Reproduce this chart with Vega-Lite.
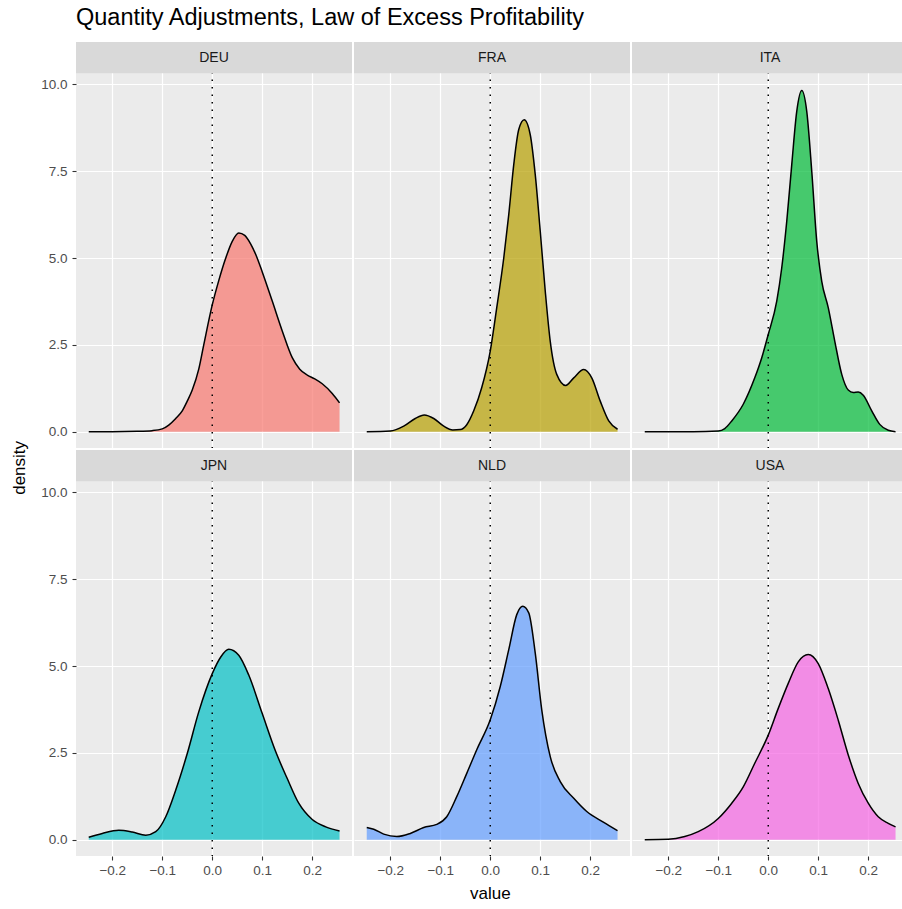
{
  "$schema": "https://vega.github.io/schema/vega-lite/v6.json",
  "title": {
    "text": "Quantity Adjustments, Law of Excess Profitability",
    "anchor": "start",
    "frame": "group",
    "fontSize": 23.5,
    "fontWeight": "normal",
    "color": "black",
    "font": "Liberation Sans",
    "offset": 12
  },
  "padding": {"left": 10, "top": 5, "right": 0, "bottom": 2},
  "data": {
    "values": [
      {"country": "DEU", "value": -0.247, "density": 0.0},
      {"country": "DEU", "value": -0.2, "density": 0.0},
      {"country": "DEU", "value": -0.15, "density": 0.01},
      {"country": "DEU", "value": -0.12, "density": 0.03},
      {"country": "DEU", "value": -0.1, "density": 0.08},
      {"country": "DEU", "value": -0.087, "density": 0.19},
      {"country": "DEU", "value": -0.073, "density": 0.38},
      {"country": "DEU", "value": -0.06, "density": 0.6},
      {"country": "DEU", "value": -0.05, "density": 0.88},
      {"country": "DEU", "value": -0.04, "density": 1.2},
      {"country": "DEU", "value": -0.027, "density": 1.8},
      {"country": "DEU", "value": -0.017, "density": 2.5},
      {"country": "DEU", "value": 0.0, "density": 3.65},
      {"country": "DEU", "value": 0.013, "density": 4.35},
      {"country": "DEU", "value": 0.027, "density": 5.0},
      {"country": "DEU", "value": 0.04, "density": 5.48},
      {"country": "DEU", "value": 0.053, "density": 5.72},
      {"country": "DEU", "value": 0.065, "density": 5.65},
      {"country": "DEU", "value": 0.077, "density": 5.4},
      {"country": "DEU", "value": 0.087, "density": 5.1},
      {"country": "DEU", "value": 0.1, "density": 4.6},
      {"country": "DEU", "value": 0.12, "density": 3.76},
      {"country": "DEU", "value": 0.14, "density": 2.9},
      {"country": "DEU", "value": 0.16, "density": 2.13},
      {"country": "DEU", "value": 0.175, "density": 1.8},
      {"country": "DEU", "value": 0.19, "density": 1.63},
      {"country": "DEU", "value": 0.205, "density": 1.52},
      {"country": "DEU", "value": 0.22, "density": 1.38},
      {"country": "DEU", "value": 0.24, "density": 1.1},
      {"country": "DEU", "value": 0.2546, "density": 0.83},

      {"country": "FRA", "value": -0.247, "density": 0.0},
      {"country": "FRA", "value": -0.2, "density": 0.02},
      {"country": "FRA", "value": -0.173, "density": 0.16},
      {"country": "FRA", "value": -0.15, "density": 0.38},
      {"country": "FRA", "value": -0.132, "density": 0.48},
      {"country": "FRA", "value": -0.113, "density": 0.38},
      {"country": "FRA", "value": -0.093, "density": 0.16},
      {"country": "FRA", "value": -0.075, "density": 0.05},
      {"country": "FRA", "value": -0.06, "density": 0.06},
      {"country": "FRA", "value": -0.047, "density": 0.2},
      {"country": "FRA", "value": -0.033, "density": 0.6},
      {"country": "FRA", "value": -0.017, "density": 1.27},
      {"country": "FRA", "value": 0.0, "density": 2.32},
      {"country": "FRA", "value": 0.013, "density": 3.57},
      {"country": "FRA", "value": 0.027, "density": 5.0},
      {"country": "FRA", "value": 0.037, "density": 6.25},
      {"country": "FRA", "value": 0.047, "density": 7.69},
      {"country": "FRA", "value": 0.057, "density": 8.7},
      {"country": "FRA", "value": 0.068, "density": 8.98},
      {"country": "FRA", "value": 0.08, "density": 8.55},
      {"country": "FRA", "value": 0.09, "density": 7.4},
      {"country": "FRA", "value": 0.1, "density": 5.77},
      {"country": "FRA", "value": 0.11, "density": 4.05},
      {"country": "FRA", "value": 0.12, "density": 2.6},
      {"country": "FRA", "value": 0.133, "density": 1.65},
      {"country": "FRA", "value": 0.151, "density": 1.33},
      {"country": "FRA", "value": 0.167, "density": 1.55},
      {"country": "FRA", "value": 0.187, "density": 1.79},
      {"country": "FRA", "value": 0.203, "density": 1.55},
      {"country": "FRA", "value": 0.22, "density": 0.88},
      {"country": "FRA", "value": 0.237, "density": 0.31},
      {"country": "FRA", "value": 0.2546, "density": 0.07},

      {"country": "ITA", "value": -0.247, "density": 0.0},
      {"country": "ITA", "value": -0.15, "density": 0.0},
      {"country": "ITA", "value": -0.1, "density": 0.02},
      {"country": "ITA", "value": -0.087, "density": 0.09},
      {"country": "ITA", "value": -0.073, "density": 0.31},
      {"country": "ITA", "value": -0.05, "density": 0.79},
      {"country": "ITA", "value": -0.027, "density": 1.55},
      {"country": "ITA", "value": -0.013, "density": 2.13},
      {"country": "ITA", "value": 0.0, "density": 2.8},
      {"country": "ITA", "value": 0.017, "density": 3.76},
      {"country": "ITA", "value": 0.027, "density": 4.72},
      {"country": "ITA", "value": 0.037, "density": 6.06},
      {"country": "ITA", "value": 0.047, "density": 7.69},
      {"country": "ITA", "value": 0.057, "density": 9.22},
      {"country": "ITA", "value": 0.067, "density": 9.82},
      {"country": "ITA", "value": 0.077, "density": 9.22},
      {"country": "ITA", "value": 0.087, "density": 7.5},
      {"country": "ITA", "value": 0.097, "density": 5.48},
      {"country": "ITA", "value": 0.107, "density": 4.33},
      {"country": "ITA", "value": 0.12, "density": 3.57},
      {"country": "ITA", "value": 0.133, "density": 2.61},
      {"country": "ITA", "value": 0.147, "density": 1.65},
      {"country": "ITA", "value": 0.16, "density": 1.2},
      {"country": "ITA", "value": 0.17, "density": 1.13},
      {"country": "ITA", "value": 0.18, "density": 1.14},
      {"country": "ITA", "value": 0.19, "density": 1.05},
      {"country": "ITA", "value": 0.207, "density": 0.6},
      {"country": "ITA", "value": 0.223, "density": 0.21},
      {"country": "ITA", "value": 0.24, "density": 0.04},
      {"country": "ITA", "value": 0.2546, "density": 0.0},

      {"country": "JPN", "value": -0.247, "density": 0.07},
      {"country": "JPN", "value": -0.22, "density": 0.18},
      {"country": "JPN", "value": -0.187, "density": 0.27},
      {"country": "JPN", "value": -0.16, "density": 0.22},
      {"country": "JPN", "value": -0.133, "density": 0.13},
      {"country": "JPN", "value": -0.113, "density": 0.23},
      {"country": "JPN", "value": -0.093, "density": 0.66},
      {"country": "JPN", "value": -0.073, "density": 1.43},
      {"country": "JPN", "value": -0.05, "density": 2.48},
      {"country": "JPN", "value": -0.027, "density": 3.68},
      {"country": "JPN", "value": 0.0, "density": 4.78},
      {"country": "JPN", "value": 0.017, "density": 5.26},
      {"country": "JPN", "value": 0.033, "density": 5.48},
      {"country": "JPN", "value": 0.053, "density": 5.31},
      {"country": "JPN", "value": 0.073, "density": 4.74},
      {"country": "JPN", "value": 0.1, "density": 3.63},
      {"country": "JPN", "value": 0.127, "density": 2.53},
      {"country": "JPN", "value": 0.15, "density": 1.76},
      {"country": "JPN", "value": 0.173, "density": 1.05},
      {"country": "JPN", "value": 0.2, "density": 0.58},
      {"country": "JPN", "value": 0.227, "density": 0.37},
      {"country": "JPN", "value": 0.2546, "density": 0.25},

      {"country": "NLD", "value": -0.247, "density": 0.35},
      {"country": "NLD", "value": -0.233, "density": 0.3},
      {"country": "NLD", "value": -0.213, "density": 0.16},
      {"country": "NLD", "value": -0.187, "density": 0.09},
      {"country": "NLD", "value": -0.16, "density": 0.18},
      {"country": "NLD", "value": -0.133, "density": 0.35},
      {"country": "NLD", "value": -0.107, "density": 0.44},
      {"country": "NLD", "value": -0.087, "density": 0.66},
      {"country": "NLD", "value": -0.067, "density": 1.24},
      {"country": "NLD", "value": -0.047, "density": 1.91},
      {"country": "NLD", "value": -0.027, "density": 2.59},
      {"country": "NLD", "value": 0.0, "density": 3.45},
      {"country": "NLD", "value": 0.02, "density": 4.41},
      {"country": "NLD", "value": 0.037, "density": 5.47},
      {"country": "NLD", "value": 0.053, "density": 6.48},
      {"country": "NLD", "value": 0.065, "density": 6.72},
      {"country": "NLD", "value": 0.077, "density": 6.53},
      {"country": "NLD", "value": 0.09, "density": 5.37},
      {"country": "NLD", "value": 0.103, "density": 3.74},
      {"country": "NLD", "value": 0.12, "density": 2.39},
      {"country": "NLD", "value": 0.14, "density": 1.67},
      {"country": "NLD", "value": 0.167, "density": 1.19},
      {"country": "NLD", "value": 0.193, "density": 0.81},
      {"country": "NLD", "value": 0.227, "density": 0.5},
      {"country": "NLD", "value": 0.2546, "density": 0.26},

      {"country": "USA", "value": -0.247, "density": 0.0},
      {"country": "USA", "value": -0.2, "density": 0.01},
      {"country": "USA", "value": -0.167, "density": 0.09},
      {"country": "USA", "value": -0.14, "density": 0.23},
      {"country": "USA", "value": -0.1, "density": 0.61},
      {"country": "USA", "value": -0.073, "density": 1.05},
      {"country": "USA", "value": -0.05, "density": 1.52},
      {"country": "USA", "value": -0.027, "density": 2.2},
      {"country": "USA", "value": 0.0, "density": 3.01},
      {"country": "USA", "value": 0.02, "density": 3.78},
      {"country": "USA", "value": 0.04, "density": 4.5},
      {"country": "USA", "value": 0.06, "density": 5.12},
      {"country": "USA", "value": 0.08, "density": 5.33},
      {"country": "USA", "value": 0.1, "density": 5.07},
      {"country": "USA", "value": 0.12, "density": 4.35},
      {"country": "USA", "value": 0.14, "density": 3.44},
      {"country": "USA", "value": 0.16, "density": 2.44},
      {"country": "USA", "value": 0.18, "density": 1.62},
      {"country": "USA", "value": 0.2, "density": 1.05},
      {"country": "USA", "value": 0.22, "density": 0.66},
      {"country": "USA", "value": 0.24, "density": 0.47},
      {"country": "USA", "value": 0.2546, "density": 0.37}
    ]
  },
  "vconcat": [
    {
      "title": {
        "text": "value",
        "orient": "bottom",
        "anchor": "middle",
        "frame": "bounds",
        "fontSize": 17,
        "fontWeight": "normal",
        "color": "black",
        "offset": 9,
        "dx": 31
      },
      "hconcat": [
        {
          "title": {
            "text": "density",
            "orient": "left",
            "anchor": "middle",
            "frame": "bounds",
            "fontSize": 17,
            "fontWeight": "normal",
            "color": "black",
            "offset": 12,
            "dx": -9
          },
          "columns": 3,
          "bounds": "flush",
          "spacing": 2,
          "concat": [
            {
              "width": 276, "height": 406,
              "transform": [{"filter": "datum.country === 'DEU'"}],
              "layer": [
                {
                  "mark": {"type": "area", "opacity": 0.7, "interpolate": "monotone"},
                  "encoding": {
                    "x": {"field": "value", "type": "quantitative", "scale": {"domain": [-0.2725, 0.2795], "nice": false, "zero": false},
                          "axis": {"orient": "bottom", "values": [-0.2, -0.1, 0, 0.1, 0.2], "gridWidth": 1.2, "ticks": false, "labels": false, "title": null}},
                    "y": {"field": "density", "type": "quantitative", "scale": {"domain": [-0.47, 11.22], "nice": false, "zero": false},
                          "axis": {"orient": "left", "values": [0, 2.5, 5, 7.5, 10], "format": ".1f", "gridWidth": 1.2, "title": null}},
                    "y2": {"datum": 0},
                    "color": {"field": "country", "type": "nominal", "legend": null,
                              "scale": {"domain": ["DEU", "FRA", "ITA", "JPN", "NLD", "USA"], "range": ["#F8766D", "#B79F00", "#00BA38", "#00BFC4", "#619CFF", "#F564E3"]}}
                  }
                },
                {
                  "mark": {"type": "line", "color": "black", "strokeWidth": 1.5, "interpolate": "monotone"},
                  "encoding": {
                    "x": {"field": "value", "type": "quantitative", "axis": {"orient": "bottom", "values": [-0.25, -0.15, -0.05, 0.05, 0.15, 0.25], "gridWidth": 0.6, "ticks": false, "labels": false, "title": null}},
                    "y": {"field": "density", "type": "quantitative", "axis": {"orient": "left", "values": [1.25, 3.75, 6.25, 8.75], "gridWidth": 0.6, "ticks": false, "labels": false, "title": null}}
                  }
                },
                {
                  "transform": [{"aggregate": [{"op": "count", "as": "n"}], "groupby": ["country"]}],
                  "mark": {"type": "rule", "color": "black", "strokeWidth": 1.5, "strokeDash": [1.5, 6]},
                  "encoding": {"x": {"datum": 0, "axis": null}}
                },
                {
                  "transform": [{"aggregate": [{"op": "count", "as": "n"}], "groupby": ["country"]}],
                  "mark": {"type": "rect", "color": "#D9D9D9"},
                  "encoding": {"x": {"datum": -0.2725, "axis": null}, "x2": {"datum": 0.2795}, "y": {"datum": 10.32, "axis": null}, "y2": {"datum": 11.22}}
                },
                {
                  "transform": [{"aggregate": [{"op": "count", "as": "n"}], "groupby": ["country"]}],
                  "mark": {"type": "text", "fontSize": 14, "color": "#1A1A1A", "baseline": "middle", "align": "center"},
                  "encoding": {"x": {"datum": 0.0035, "axis": null}, "y": {"datum": 10.77, "axis": null}, "text": {"field": "country", "type": "nominal"}}
                }
              ],
              "resolve": {"axis": {"x": "independent", "y": "independent"}}
            },
            {
              "width": 276, "height": 406,
              "transform": [{"filter": "datum.country === 'FRA'"}],
              "layer": [
                {
                  "mark": {"type": "area", "opacity": 0.7, "interpolate": "monotone"},
                  "encoding": {
                    "x": {"field": "value", "type": "quantitative", "scale": {"domain": [-0.2725, 0.2795], "nice": false, "zero": false},
                          "axis": {"orient": "bottom", "values": [-0.2, -0.1, 0, 0.1, 0.2], "gridWidth": 1.2, "ticks": false, "labels": false, "title": null}},
                    "y": {"field": "density", "type": "quantitative", "scale": {"domain": [-0.47, 11.22], "nice": false, "zero": false},
                          "axis": {"orient": "left", "values": [0, 2.5, 5, 7.5, 10], "gridWidth": 1.2, "ticks": false, "labels": false, "title": null}},
                    "y2": {"datum": 0},
                    "color": {"field": "country", "type": "nominal", "legend": null,
                              "scale": {"domain": ["DEU", "FRA", "ITA", "JPN", "NLD", "USA"], "range": ["#F8766D", "#B79F00", "#00BA38", "#00BFC4", "#619CFF", "#F564E3"]}}
                  }
                },
                {
                  "mark": {"type": "line", "color": "black", "strokeWidth": 1.5, "interpolate": "monotone"},
                  "encoding": {
                    "x": {"field": "value", "type": "quantitative", "axis": {"orient": "bottom", "values": [-0.25, -0.15, -0.05, 0.05, 0.15, 0.25], "gridWidth": 0.6, "ticks": false, "labels": false, "title": null}},
                    "y": {"field": "density", "type": "quantitative", "axis": {"orient": "left", "values": [1.25, 3.75, 6.25, 8.75], "gridWidth": 0.6, "ticks": false, "labels": false, "title": null}}
                  }
                },
                {
                  "transform": [{"aggregate": [{"op": "count", "as": "n"}], "groupby": ["country"]}],
                  "mark": {"type": "rule", "color": "black", "strokeWidth": 1.5, "strokeDash": [1.5, 6]},
                  "encoding": {"x": {"datum": 0, "axis": null}}
                },
                {
                  "transform": [{"aggregate": [{"op": "count", "as": "n"}], "groupby": ["country"]}],
                  "mark": {"type": "rect", "color": "#D9D9D9"},
                  "encoding": {"x": {"datum": -0.2725, "axis": null}, "x2": {"datum": 0.2795}, "y": {"datum": 10.32, "axis": null}, "y2": {"datum": 11.22}}
                },
                {
                  "transform": [{"aggregate": [{"op": "count", "as": "n"}], "groupby": ["country"]}],
                  "mark": {"type": "text", "fontSize": 14, "color": "#1A1A1A", "baseline": "middle", "align": "center"},
                  "encoding": {"x": {"datum": 0.0035, "axis": null}, "y": {"datum": 10.77, "axis": null}, "text": {"field": "country", "type": "nominal"}}
                }
              ],
              "resolve": {"axis": {"x": "independent", "y": "independent"}}
            },
            {
              "width": 276, "height": 406,
              "transform": [{"filter": "datum.country === 'ITA'"}],
              "layer": [
                {
                  "mark": {"type": "area", "opacity": 0.7, "interpolate": "monotone"},
                  "encoding": {
                    "x": {"field": "value", "type": "quantitative", "scale": {"domain": [-0.2725, 0.2795], "nice": false, "zero": false},
                          "axis": {"orient": "bottom", "values": [-0.2, -0.1, 0, 0.1, 0.2], "gridWidth": 1.2, "ticks": false, "labels": false, "title": null}},
                    "y": {"field": "density", "type": "quantitative", "scale": {"domain": [-0.47, 11.22], "nice": false, "zero": false},
                          "axis": {"orient": "left", "values": [0, 2.5, 5, 7.5, 10], "gridWidth": 1.2, "ticks": false, "labels": false, "title": null}},
                    "y2": {"datum": 0},
                    "color": {"field": "country", "type": "nominal", "legend": null,
                              "scale": {"domain": ["DEU", "FRA", "ITA", "JPN", "NLD", "USA"], "range": ["#F8766D", "#B79F00", "#00BA38", "#00BFC4", "#619CFF", "#F564E3"]}}
                  }
                },
                {
                  "mark": {"type": "line", "color": "black", "strokeWidth": 1.5, "interpolate": "monotone"},
                  "encoding": {
                    "x": {"field": "value", "type": "quantitative", "axis": {"orient": "bottom", "values": [-0.25, -0.15, -0.05, 0.05, 0.15, 0.25], "gridWidth": 0.6, "ticks": false, "labels": false, "title": null}},
                    "y": {"field": "density", "type": "quantitative", "axis": {"orient": "left", "values": [1.25, 3.75, 6.25, 8.75], "gridWidth": 0.6, "ticks": false, "labels": false, "title": null}}
                  }
                },
                {
                  "transform": [{"aggregate": [{"op": "count", "as": "n"}], "groupby": ["country"]}],
                  "mark": {"type": "rule", "color": "black", "strokeWidth": 1.5, "strokeDash": [1.5, 6]},
                  "encoding": {"x": {"datum": 0, "axis": null}}
                },
                {
                  "transform": [{"aggregate": [{"op": "count", "as": "n"}], "groupby": ["country"]}],
                  "mark": {"type": "rect", "color": "#D9D9D9"},
                  "encoding": {"x": {"datum": -0.2725, "axis": null}, "x2": {"datum": 0.2795}, "y": {"datum": 10.32, "axis": null}, "y2": {"datum": 11.22}}
                },
                {
                  "transform": [{"aggregate": [{"op": "count", "as": "n"}], "groupby": ["country"]}],
                  "mark": {"type": "text", "fontSize": 14, "color": "#1A1A1A", "baseline": "middle", "align": "center"},
                  "encoding": {"x": {"datum": 0.0035, "axis": null}, "y": {"datum": 10.77, "axis": null}, "text": {"field": "country", "type": "nominal"}}
                }
              ],
              "resolve": {"axis": {"x": "independent", "y": "independent"}}
            },
            {
              "width": 276, "height": 406,
              "transform": [{"filter": "datum.country === 'JPN'"}],
              "layer": [
                {
                  "mark": {"type": "area", "opacity": 0.7, "interpolate": "monotone"},
                  "encoding": {
                    "x": {"field": "value", "type": "quantitative", "scale": {"domain": [-0.2725, 0.2795], "nice": false, "zero": false},
                          "axis": {"orient": "bottom", "values": [-0.2, -0.1, 0, 0.1, 0.2], "format": ".1f", "gridWidth": 1.2, "title": null}},
                    "y": {"field": "density", "type": "quantitative", "scale": {"domain": [-0.47, 11.22], "nice": false, "zero": false},
                          "axis": {"orient": "left", "values": [0, 2.5, 5, 7.5, 10], "format": ".1f", "gridWidth": 1.2, "title": null}},
                    "y2": {"datum": 0},
                    "color": {"field": "country", "type": "nominal", "legend": null,
                              "scale": {"domain": ["DEU", "FRA", "ITA", "JPN", "NLD", "USA"], "range": ["#F8766D", "#B79F00", "#00BA38", "#00BFC4", "#619CFF", "#F564E3"]}}
                  }
                },
                {
                  "mark": {"type": "line", "color": "black", "strokeWidth": 1.5, "interpolate": "monotone"},
                  "encoding": {
                    "x": {"field": "value", "type": "quantitative", "axis": {"orient": "bottom", "values": [-0.25, -0.15, -0.05, 0.05, 0.15, 0.25], "gridWidth": 0.6, "ticks": false, "labels": false, "title": null}},
                    "y": {"field": "density", "type": "quantitative", "axis": {"orient": "left", "values": [1.25, 3.75, 6.25, 8.75], "gridWidth": 0.6, "ticks": false, "labels": false, "title": null}}
                  }
                },
                {
                  "transform": [{"aggregate": [{"op": "count", "as": "n"}], "groupby": ["country"]}],
                  "mark": {"type": "rule", "color": "black", "strokeWidth": 1.5, "strokeDash": [1.5, 6]},
                  "encoding": {"x": {"datum": 0, "axis": null}}
                },
                {
                  "transform": [{"aggregate": [{"op": "count", "as": "n"}], "groupby": ["country"]}],
                  "mark": {"type": "rect", "color": "#D9D9D9"},
                  "encoding": {"x": {"datum": -0.2725, "axis": null}, "x2": {"datum": 0.2795}, "y": {"datum": 10.32, "axis": null}, "y2": {"datum": 11.22}}
                },
                {
                  "transform": [{"aggregate": [{"op": "count", "as": "n"}], "groupby": ["country"]}],
                  "mark": {"type": "text", "fontSize": 14, "color": "#1A1A1A", "baseline": "middle", "align": "center"},
                  "encoding": {"x": {"datum": 0.0035, "axis": null}, "y": {"datum": 10.77, "axis": null}, "text": {"field": "country", "type": "nominal"}}
                }
              ],
              "resolve": {"axis": {"x": "independent", "y": "independent"}}
            },
            {
              "width": 276, "height": 406,
              "transform": [{"filter": "datum.country === 'NLD'"}],
              "layer": [
                {
                  "mark": {"type": "area", "opacity": 0.7, "interpolate": "monotone"},
                  "encoding": {
                    "x": {"field": "value", "type": "quantitative", "scale": {"domain": [-0.2725, 0.2795], "nice": false, "zero": false},
                          "axis": {"orient": "bottom", "values": [-0.2, -0.1, 0, 0.1, 0.2], "format": ".1f", "gridWidth": 1.2, "title": null}},
                    "y": {"field": "density", "type": "quantitative", "scale": {"domain": [-0.47, 11.22], "nice": false, "zero": false},
                          "axis": {"orient": "left", "values": [0, 2.5, 5, 7.5, 10], "gridWidth": 1.2, "ticks": false, "labels": false, "title": null}},
                    "y2": {"datum": 0},
                    "color": {"field": "country", "type": "nominal", "legend": null,
                              "scale": {"domain": ["DEU", "FRA", "ITA", "JPN", "NLD", "USA"], "range": ["#F8766D", "#B79F00", "#00BA38", "#00BFC4", "#619CFF", "#F564E3"]}}
                  }
                },
                {
                  "mark": {"type": "line", "color": "black", "strokeWidth": 1.5, "interpolate": "monotone"},
                  "encoding": {
                    "x": {"field": "value", "type": "quantitative", "axis": {"orient": "bottom", "values": [-0.25, -0.15, -0.05, 0.05, 0.15, 0.25], "gridWidth": 0.6, "ticks": false, "labels": false, "title": null}},
                    "y": {"field": "density", "type": "quantitative", "axis": {"orient": "left", "values": [1.25, 3.75, 6.25, 8.75], "gridWidth": 0.6, "ticks": false, "labels": false, "title": null}}
                  }
                },
                {
                  "transform": [{"aggregate": [{"op": "count", "as": "n"}], "groupby": ["country"]}],
                  "mark": {"type": "rule", "color": "black", "strokeWidth": 1.5, "strokeDash": [1.5, 6]},
                  "encoding": {"x": {"datum": 0, "axis": null}}
                },
                {
                  "transform": [{"aggregate": [{"op": "count", "as": "n"}], "groupby": ["country"]}],
                  "mark": {"type": "rect", "color": "#D9D9D9"},
                  "encoding": {"x": {"datum": -0.2725, "axis": null}, "x2": {"datum": 0.2795}, "y": {"datum": 10.32, "axis": null}, "y2": {"datum": 11.22}}
                },
                {
                  "transform": [{"aggregate": [{"op": "count", "as": "n"}], "groupby": ["country"]}],
                  "mark": {"type": "text", "fontSize": 14, "color": "#1A1A1A", "baseline": "middle", "align": "center"},
                  "encoding": {"x": {"datum": 0.0035, "axis": null}, "y": {"datum": 10.77, "axis": null}, "text": {"field": "country", "type": "nominal"}}
                }
              ],
              "resolve": {"axis": {"x": "independent", "y": "independent"}}
            },
            {
              "width": 276, "height": 406,
              "transform": [{"filter": "datum.country === 'USA'"}],
              "layer": [
                {
                  "mark": {"type": "area", "opacity": 0.7, "interpolate": "monotone"},
                  "encoding": {
                    "x": {"field": "value", "type": "quantitative", "scale": {"domain": [-0.2725, 0.2795], "nice": false, "zero": false},
                          "axis": {"orient": "bottom", "values": [-0.2, -0.1, 0, 0.1, 0.2], "format": ".1f", "gridWidth": 1.2, "title": null}},
                    "y": {"field": "density", "type": "quantitative", "scale": {"domain": [-0.47, 11.22], "nice": false, "zero": false},
                          "axis": {"orient": "left", "values": [0, 2.5, 5, 7.5, 10], "gridWidth": 1.2, "ticks": false, "labels": false, "title": null}},
                    "y2": {"datum": 0},
                    "color": {"field": "country", "type": "nominal", "legend": null,
                              "scale": {"domain": ["DEU", "FRA", "ITA", "JPN", "NLD", "USA"], "range": ["#F8766D", "#B79F00", "#00BA38", "#00BFC4", "#619CFF", "#F564E3"]}}
                  }
                },
                {
                  "mark": {"type": "line", "color": "black", "strokeWidth": 1.5, "interpolate": "monotone"},
                  "encoding": {
                    "x": {"field": "value", "type": "quantitative", "axis": {"orient": "bottom", "values": [-0.25, -0.15, -0.05, 0.05, 0.15, 0.25], "gridWidth": 0.6, "ticks": false, "labels": false, "title": null}},
                    "y": {"field": "density", "type": "quantitative", "axis": {"orient": "left", "values": [1.25, 3.75, 6.25, 8.75], "gridWidth": 0.6, "ticks": false, "labels": false, "title": null}}
                  }
                },
                {
                  "transform": [{"aggregate": [{"op": "count", "as": "n"}], "groupby": ["country"]}],
                  "mark": {"type": "rule", "color": "black", "strokeWidth": 1.5, "strokeDash": [1.5, 6]},
                  "encoding": {"x": {"datum": 0, "axis": null}}
                },
                {
                  "transform": [{"aggregate": [{"op": "count", "as": "n"}], "groupby": ["country"]}],
                  "mark": {"type": "rect", "color": "#D9D9D9"},
                  "encoding": {"x": {"datum": -0.2725, "axis": null}, "x2": {"datum": 0.2795}, "y": {"datum": 10.32, "axis": null}, "y2": {"datum": 11.22}}
                },
                {
                  "transform": [{"aggregate": [{"op": "count", "as": "n"}], "groupby": ["country"]}],
                  "mark": {"type": "text", "fontSize": 14, "color": "#1A1A1A", "baseline": "middle", "align": "center"},
                  "encoding": {"x": {"datum": 0.0035, "axis": null}, "y": {"datum": 10.77, "axis": null}, "text": {"field": "country", "type": "nominal"}}
                }
              ],
              "resolve": {"axis": {"x": "independent", "y": "independent"}}
            }
          ]
        }
      ]
    }
  ],
  "config": {
    "font": "Liberation Sans",
    "view": {"fill": "#EBEBEB", "stroke": null},
    "background": "white",
    "axis": {
      "grid": true,
      "gridColor": "white",
      "domain": false,
      "tickColor": "#333333",
      "tickSize": 4,
      "tickWidth": 1.1,
      "labelColor": "#4D4D4D",
      "labelFontSize": 13.5
    },
    "axisX": {"labelPadding": 3},
    "axisY": {"labelPadding": 5}
  }
}
